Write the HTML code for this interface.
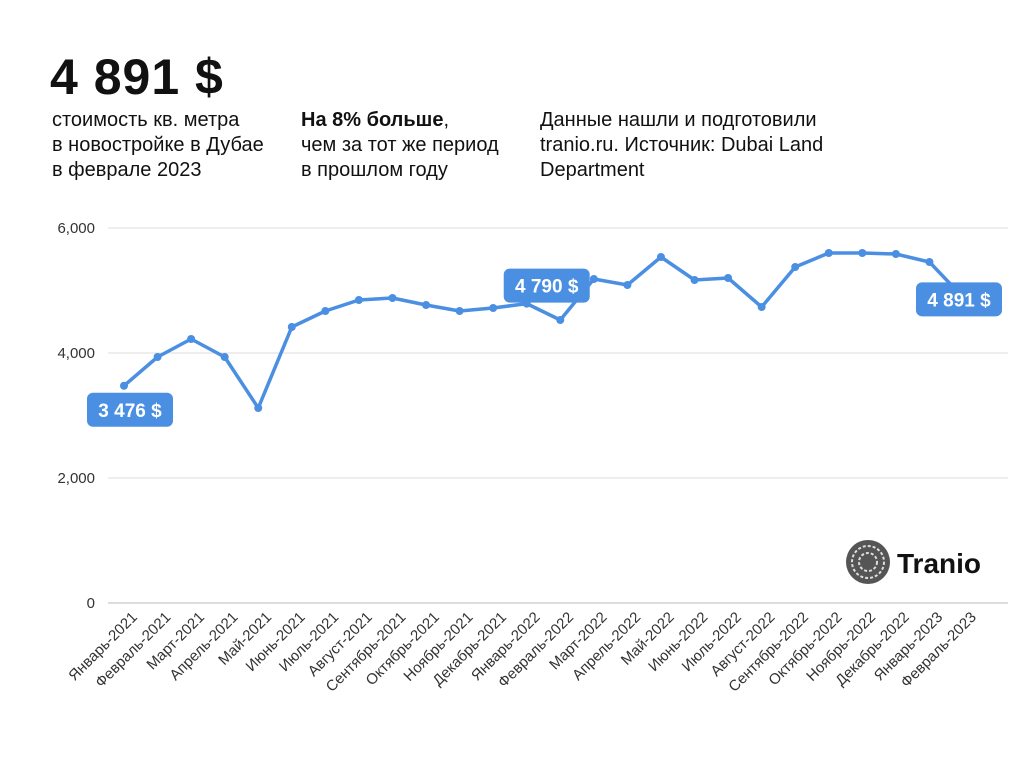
<!DOCTYPE html>
<html><head><meta charset="utf-8">
<style>
body{margin:0;width:1024px;height:768px;background:#fff;font-family:"Liberation Sans",sans-serif;color:#111;overflow:hidden;position:relative}
.t{position:absolute;font-size:20px;line-height:25px}
</style></head><body>
<div style="position:absolute;left:50px;top:48px;font-size:50px;font-weight:bold;letter-spacing:1px">4 891 $</div>
<div class="t" style="left:52px;top:108px">стоимость кв. метра<br>в новостройке в Дубае<br>в феврале 2023</div>
<div class="t" style="left:301px;top:108px"><b>На 8% больше</b>,<br>чем за тот же период<br>в прошлом году</div>
<div class="t" style="left:540px;top:108px">Данные нашли и подготовили<br>tranio.ru. Источник: Dubai Land<br>Department</div>
<svg id="c" width="1024" height="768" style="position:absolute;left:0;top:0">
<g>
<circle cx="868" cy="562" r="22" fill="#555"/>
<circle cx="868" cy="562" r="16" fill="none" stroke="#ddd" stroke-width="2" stroke-dasharray="3 2"/>
<circle cx="868" cy="562" r="9" fill="none" stroke="#ddd" stroke-width="2" stroke-dasharray="3 2"/>
<text x="897" y="573" font-size="28" font-weight="bold" fill="#111" font-family="Liberation Sans">Tranio</text>
</g>
</svg>
<script>
const categories=["Январь-2021","Февраль-2021","Март-2021","Апрель-2021","Май-2021","Июнь-2021","Июль-2021","Август-2021","Сентябрь-2021","Октябрь-2021","Ноябрь-2021","Декабрь-2021","Январь-2022","Февраль-2022","Март-2022","Апрель-2022","Май-2022","Июнь-2022","Июль-2022","Август-2022","Сентябрь-2022","Октябрь-2022","Ноябрь-2022","Декабрь-2022","Январь-2023","Февраль-2023"];
const values=[3476,3936,4224,3936,3120,4416,4672,4848,4880,4768,4672,4720,4790,4528,5184,5088,5536,5168,5200,4736,5376,5600,5600,5584,5456,4891];
const yTicks=[0,2000,4000,6000];
const yTickLabels=["0","2,000","4,000","6,000"];
const callouts=[{i:0,text:"3 476 $"},{i:12,text:"4 790 $"},{i:25,text:"4 891 $"}];
const NS="http://www.w3.org/2000/svg",svg=document.getElementById('c');
const x=i=>124+i*(963-124)/(categories.length-1);
const y=v=>603-v*375/6000;
function mk(t,a,p){const e=document.createElementNS(NS,t);for(const k in a)e.setAttribute(k,a[k]);(p||svg).appendChild(e);return e;}
yTicks.forEach((v,k)=>{
 const l=mk('line',{x1:108,x2:1008,y1:y(v),y2:y(v),stroke:k==0?'#bbb':'#ddd','stroke-width':1});
 
 
 const t=mk('text',{x:95,y:y(v)+5,'text-anchor':'end','font-size':15,fill:'#333'});t.textContent=yTickLabels[k];
 
 
});
categories.forEach((c,i)=>{
 const t=mk('text',{x:x(i)+14,y:618,'text-anchor':'end','font-size':15,fill:'#333',transform:`rotate(-45 ${x(i)+14} 618)`});t.textContent=c;
 
 
});
const p=mk('polyline',{points:values.map((v,i)=>x(i)+','+y(v)).join(' '),fill:'none',stroke:'#4a8fe2','stroke-width':3.5,'stroke-linejoin':'round'});


values.forEach((v,i)=>{const c=mk('circle',{cx:x(i),cy:y(v),r:4,fill:'#4a8fe2'});
 
 });
callouts.forEach(o=>{
 const cx=x(o.i)+(o.i==0?6:o.i==25?-4:20),cy=y(values[o.i])+(o.i==0?24:o.i==25?2:-18);
 const g=mk('g',{});
 
 
 mk('rect',{x:cx-43,y:cy-17,width:86,height:34,rx:6,fill:'#4a8fe2'},g);
 const t=mk('text',{x:cx,y:cy+7,'text-anchor':'middle','font-size':19,'font-weight':'bold',fill:'#fff'},g);t.textContent=o.text;
});
</script>
</body></html>
